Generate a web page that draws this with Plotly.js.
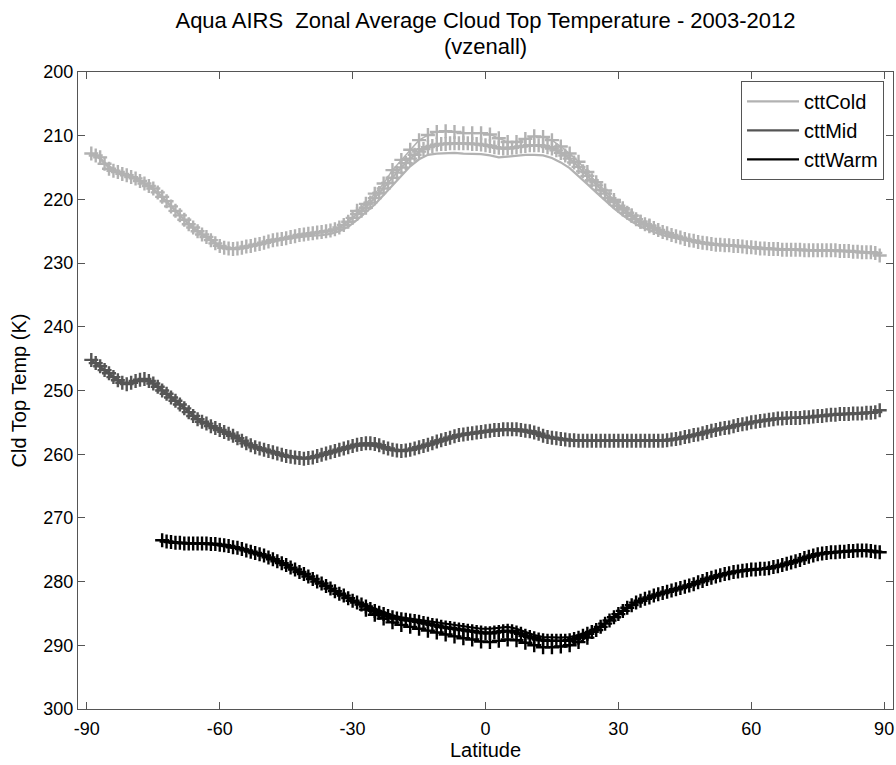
<!DOCTYPE html>
<html>
<head>
<meta charset="utf-8">
<script src="https://cdn.plot.ly/plotly-3.0.1.min.js"></script>
<style>
  html, body { margin: 0; padding: 0; background: #fff; }
  #chart { width: 896px; height: 765px; }
</style>
</head>
<body>
<div id="chart"></div>
<script>
// Latitude bins, degrees north (odd and even 2-degree grids)
const latOdd = [-89,-87,-85,-83,-81,-79,-77,-75,-73,-71,-69,-67,-65,-63,-61,-59,-57,-55,-53,-51,
  -49,-47,-45,-43,-41,-39,-37,-35,-33,-31,-29,-27,-25,-23,-21,-19,-17,-15,-13,-11,
  -9,-7,-5,-3,-1,1,3,5,7,9,11,13,15,17,19,21,23,25,27,29,
  31,33,35,37,39,41,43,45,47,49,51,53,55,57,59,61,63,65,67,69,
  71,73,75,77,79,81,83,85,87,89];
const latEven = [-88,-86,-84,-82,-80,-78,-76,-74,-72,-70,-68,-66,-64,-62,-60,-58,-56,-54,-52,-50,
  -48,-46,-44,-42,-40,-38,-36,-34,-32,-30,-28,-26,-24,-22,-20,-18,-16,-14,-12,-10,
  -8,-6,-4,-2,0,2,4,6,8,10,12,14,16,18,20,22,24,26,28,30,
  32,34,36,38,40,42,44,46,48,50,52,54,56,58,60,62,64,66,68,70,
  72,74,76,78,80,82,84,86,88];

// Warm-cloud bins start at 73S
const latWarmOdd = [-73,-71,-69,-67,-65,-63,-61,-59,-57,-55,-53,-51,
  -49,-47,-45,-43,-41,-39,-37,-35,-33,-31,-29,-27,-25,-23,-21,-19,-17,-15,-13,-11,
  -9,-7,-5,-3,-1,1,3,5,7,9,11,13,15,17,19,21,23,25,27,29,
  31,33,35,37,39,41,43,45,47,49,51,53,55,57,59,61,63,65,67,69,
  71,73,75,77,79,81,83,85,87,89];
const latWarmEven = [-72,-70,-68,-66,-64,-62,-60,-58,-56,-54,-52,-50,
  -48,-46,-44,-42,-40,-38,-36,-34,-32,-30,-28,-26,-24,-22,-20,-18,-16,-14,-12,-10,
  -8,-6,-4,-2,0,2,4,6,8,10,12,14,16,18,20,22,24,26,28,30,
  32,34,36,38,40,42,44,46,48,50,52,54,56,58,60,62,64,66,68,70,
  72,74,76,78,80,82,84,86,88];

// Tropical bins of the outlying marker rows
const latColdTrop = [-29,-27,-25,-23,-21,-19,-17,-15,-13,-11,-9,-7,-5,-3,-1,1,3,5,7,9,
  11,13,15,17,19,21,23,25,27,29,31,33,35,37];
const latWarmTrop = [-27,-25,-23,-21,-19,-17,-15,-13,-11,-9,-7,-5,-3,-1,1,3,5,7,9,
  11,13,15,17,19,21,23];

// Axis ticks
const latTicks = [-90, -60, -30, 0, 30, 60, 90];
const latTickText = ['-90', '-60', '-30', '0', '30', '60', '90'];
const tempTicks = [200, 210, 220, 230, 240, 250, 260, 270, 280, 290, 300];

// Cloud top temperature (K)
const coldOdd = [212.8,213.4,215.2,215.7,216.2,216.7,217.5,218.3,219.6,221.1,222.5,223.9,225.0,225.9,226.9,227.6,227.8,227.6,227.3,227.0,
  226.6,226.3,226.1,225.8,225.5,225.3,225.1,224.9,224.4,223.5,222.3,221.3,219.8,218.3,216.6,215.0,213.6,212.5,211.8,211.4,
  211.3,211.2,211.2,211.3,211.4,211.6,211.9,212.0,211.8,211.6,211.5,211.6,212.0,212.7,213.6,214.9,216.3,217.8,219.1,220.4,
  221.6,222.6,223.5,224.2,224.8,225.3,225.8,226.2,226.5,226.8,227.0,227.1,227.2,227.3,227.5,227.6,227.7,227.8,227.9,227.9,
  227.9,228.0,228.0,228.0,228.0,228.1,228.2,228.3,228.3,228.8];
const coldEven = [213.1,214.4,215.5,216.0,216.5,217.1,217.9,218.9,220.3,221.8,223.2,224.4,225.5,226.4,227.3,227.7,227.7,227.4,227.1,226.8,
  226.4,226.2,225.9,225.6,225.4,225.2,225.0,224.7,224.0,222.9,221.8,220.5,219.0,217.4,215.8,214.3,213.0,212.1,211.6,211.3,
  211.2,211.2,211.2,211.3,211.5,211.8,212.0,211.9,211.7,211.5,211.5,211.8,212.3,213.1,214.2,215.6,217.0,218.5,219.8,221.0,
  222.1,223.1,223.9,224.5,225.1,225.6,226.0,226.4,226.7,226.9,227.1,227.2,227.3,227.4,227.5,227.7,227.8,227.8,227.9,227.9,
  228.0,228.0,228.0,228.0,228.1,228.1,228.2,228.3,228.4];
const coldUpper = [221.8,220.7,219.1,217.5,215.4,213.8,212.2,210.7,209.9,209.4,209.3,209.4,209.6,209.6,209.6,209.8,210.4,211.0,211.0,210.5,
  210.1,210.2,210.7,211.7,212.8,214.1,215.7,217.3,218.6,220.1,221.4,222.5,223.5,224.1];
const coldLine = [212.8,213.6,214.8,215.6,216.2,216.8,217.6,218.5,219.7,221.1,222.5,223.9,225.0,226.0,226.9,227.5,227.7,227.6,227.3,227.0,
  226.7,226.4,226.2,226.0,225.8,225.7,225.6,225.4,225.0,224.3,223.2,222.0,220.8,219.3,217.8,216.2,214.8,213.7,213.0,212.8,
  212.7,212.7,212.8,212.8,212.9,213.1,213.4,213.3,213.1,213.0,213.0,213.1,213.5,214.2,215.1,216.3,217.6,218.9,220.2,221.4,
  222.5,223.5,224.3,224.9,225.4,225.8,226.1,226.4,226.6,226.9,227.1,227.2,227.3,227.4,227.5,227.6,227.7,227.8,227.9,227.9,
  227.9,228.0,228.0,228.0,228.0,228.1,228.2,228.3,228.4,228.6];

const midOdd = [245.2,246.2,247.3,248.4,249.0,248.5,248.2,248.9,250.0,251.1,252.2,253.4,254.5,255.2,255.9,256.5,257.1,257.9,258.6,259.1,
  259.5,259.9,260.3,260.5,260.7,260.5,260.1,259.7,259.3,258.9,258.5,258.3,258.4,258.9,259.3,259.5,259.3,258.9,258.5,258.0,
  257.6,257.2,256.9,256.7,256.5,256.3,256.2,256.1,256.1,256.3,256.6,257.1,257.4,257.6,257.8,257.9,257.9,257.9,257.9,257.9,
  257.9,257.9,257.9,257.9,257.9,257.8,257.6,257.3,257.0,256.7,256.3,256.0,255.8,255.4,255.2,254.9,254.7,254.5,254.4,254.3,
  254.3,254.2,254.0,253.9,253.8,253.7,253.6,253.6,253.5,253.1];
const midEven = [245.7,246.8,247.9,248.8,248.8,248.3,248.5,249.4,250.5,251.6,252.8,254.0,254.9,255.6,256.2,256.8,257.5,258.3,258.9,259.3,
  259.7,260.1,260.4,260.6,260.6,260.3,259.9,259.5,259.1,258.7,258.4,258.3,258.6,259.1,259.4,259.4,259.1,258.7,258.3,257.8,
  257.4,257.0,256.8,256.6,256.4,256.2,256.1,256.1,256.2,256.4,256.8,257.3,257.5,257.7,257.8,257.9,257.9,257.9,257.9,257.9,
  257.9,257.9,257.9,257.9,257.9,257.7,257.5,257.2,256.9,256.5,256.2,255.9,255.6,255.3,255.0,254.8,254.6,254.4,254.3,254.3,
  254.2,254.1,254.0,253.8,253.7,253.7,253.6,253.5,253.4];
const midLine = [245.3,246.3,247.4,248.4,248.9,248.6,248.3,248.9,249.9,251.0,252.1,253.3,254.4,255.2,255.9,256.5,257.2,257.9,258.5,259.0,
  259.5,259.9,260.2,260.5,260.6,260.5,260.2,259.8,259.4,259.0,258.7,258.6,258.7,259.0,259.3,259.4,259.3,259.0,258.6,258.1,
  257.7,257.3,257.0,256.8,256.6,256.4,256.3,256.2,256.3,256.5,256.8,257.2,257.5,257.7,257.8,257.9,257.9,257.9,257.9,257.9,
  257.9,257.9,257.9,257.9,257.9,257.8,257.6,257.3,257.0,256.7,256.3,256.0,255.8,255.4,255.2,254.9,254.7,254.5,254.4,254.3,
  254.3,254.2,254.0,253.9,253.8,253.7,253.6,253.6,253.5,253.3];

const warmOdd = [273.5,273.8,273.9,274.0,274.0,274.0,274.1,274.3,274.6,274.9,275.3,275.7,
  276.2,276.8,277.4,278.1,278.8,279.6,280.3,281.1,281.9,282.6,283.3,283.9,284.6,285.1,285.6,285.9,286.1,286.3,286.6,286.9,
  287.2,287.4,287.6,287.8,288.0,288.1,287.9,287.7,288.0,288.5,288.9,289.2,289.3,289.3,289.2,288.8,288.2,287.6,286.6,285.6,
  284.6,283.7,283.0,282.5,282.0,281.6,281.2,280.8,280.4,279.9,279.4,279.0,278.7,278.4,278.2,278.1,278.0,277.7,277.4,277.0,
  276.6,276.1,275.7,275.5,275.4,275.3,275.2,275.1,275.2,275.4];
const warmEven = [273.7,273.9,274.0,274.0,274.0,274.1,274.2,274.4,274.7,275.1,275.5,275.9,
  276.5,277.1,277.8,278.5,279.2,280.0,280.7,281.5,282.2,283.0,283.6,284.3,284.9,285.4,285.8,286.0,286.2,286.5,286.8,287.1,
  287.3,287.5,287.7,287.9,288.1,288.0,287.8,287.8,288.2,288.7,289.1,289.3,289.3,289.3,289.0,288.5,287.9,287.1,286.1,285.1,
  284.1,283.3,282.7,282.2,281.8,281.4,281.0,280.6,280.1,279.6,279.2,278.8,278.5,278.3,278.1,278.0,277.9,277.6,277.2,276.8,
  276.3,275.9,275.6,275.4,275.3,275.2,275.1,275.1,275.3];
const warmLower = [284.4,285.2,285.8,286.4,286.8,287.1,287.4,287.7,288.0,288.3,288.6,288.9,289.1,289.4,289.5,289.3,289.1,289.2,289.6,
  290.0,290.3,290.3,290.2,290.0,289.5,288.8];
const warmLine = [273.6,273.8,273.9,274.0,274.0,274.1,274.2,274.4,274.6,274.9,275.3,275.7,
  276.2,276.8,277.4,278.1,278.8,279.6,280.3,281.0,281.8,282.5,283.2,283.7,284.3,284.8,285.3,285.6,285.8,286.0,286.2,286.4,
  286.6,286.8,287.0,287.2,287.4,287.4,287.2,287.1,287.4,287.9,288.4,288.7,288.8,288.8,288.7,288.4,287.9,287.3,286.5,285.6,
  284.6,283.7,283.0,282.5,282.0,281.6,281.2,280.8,280.4,279.9,279.4,279.0,278.7,278.4,278.2,278.1,278.0,277.7,277.4,277.0,
  276.6,276.1,275.7,275.5,275.4,275.3,275.2,275.1,275.2,275.3];

const seriesNames = ['cttCold', 'cttMid', 'cttWarm'];
const colors = ['#b2b2b2', '#555555', '#000000'];
const FONT = 'Liberation Sans, Arial, Helvetica, sans-serif';

function markedTrace(x, y, color) {
  return {
    x: x, y: y, type: 'scatter', mode: 'lines+markers',
    showlegend: false, hoverinfo: 'skip',
    line: { color: color, width: 1.5 },
    marker: { symbol: 'cross-thin', size: 10, color: color,
              line: { color: color, width: 2.4 } }
  };
}
function solidTrace(x, y, name, color) {
  return {
    x: x, y: y, type: 'scatter', mode: 'lines', name: name,
    hoverinfo: 'skip',
    line: { color: color, width: 2.2 }
  };
}

const data = [
  markedTrace(latColdTrop, coldUpper, colors[0]),
  markedTrace(latOdd, coldOdd, colors[0]),
  markedTrace(latEven, coldEven, colors[0]),
  markedTrace(latOdd, midOdd, colors[1]),
  markedTrace(latEven, midEven, colors[1]),
  markedTrace(latWarmTrop, warmLower, colors[2]),
  markedTrace(latWarmOdd, warmOdd, colors[2]),
  markedTrace(latWarmEven, warmEven, colors[2]),
  solidTrace(latOdd, coldLine, seriesNames[0], colors[0]),
  solidTrace(latOdd, midLine, seriesNames[1], colors[1]),
  solidTrace(latWarmOdd, warmLine, seriesNames[2], colors[2])
];

const axisCommon = {
  showgrid: false, zeroline: false,
  showline: true, linecolor: '#555', linewidth: 1, mirror: 'ticks',
  ticks: 'inside', ticklen: 7, tickwidth: 1, tickcolor: '#555',
  tickfont: { family: FONT, size: 18, color: '#000' }
};

const layout = {
  width: 896, height: 765,
  paper_bgcolor: '#fff', plot_bgcolor: '#fff',
  margin: { l: 78, r: 3, t: 72, b: 56 },
  font: { family: FONT, color: '#000' },
  title: {
    text: 'Aqua AIRS  Zonal Average Cloud Top Temperature - 2003-2012',
    font: { family: FONT, size: 22, color: '#000' },
    x: 0.5, xref: 'paper', xanchor: 'center',
    y: 0.974, yref: 'container', yanchor: 'middle'
  },
  annotations: [{
    text: '(vzenall)', showarrow: false,
    xref: 'paper', yref: 'paper', x: 0.5, y: 1.0395,
    xanchor: 'center', yanchor: 'middle',
    font: { family: FONT, size: 22, color: '#000' }
  }],
  xaxis: Object.assign({}, axisCommon, {
    range: [-92, 92], tickmode: 'array', tickvals: latTicks, ticktext: latTickText,
    ticklabelstandoff: 3,
    title: { text: 'Latitude', font: { family: FONT, size: 20, color: '#000' }, standoff: 4 }
  }),
  yaxis: Object.assign({}, axisCommon, {
    range: [300, 200], tickmode: 'array', tickvals: tempTicks,
    title: { text: 'Cld Top Temp (K)', font: { family: FONT, size: 20, color: '#000' }, standoff: 11 }
  }),
  legend: {
    x: 0.989, xanchor: 'right', y: 0.986, yanchor: 'top',
    bgcolor: '#fff', bordercolor: '#555', borderwidth: 1,
    font: { family: FONT, size: 20, color: '#000' },
    itemwidth: 52, tracegroupgap: 0
  },
  showlegend: true,
  hovermode: false
};

Plotly.newPlot('chart', data, layout, { displayModeBar: false, staticPlot: true });
</script>
</body>
</html>
